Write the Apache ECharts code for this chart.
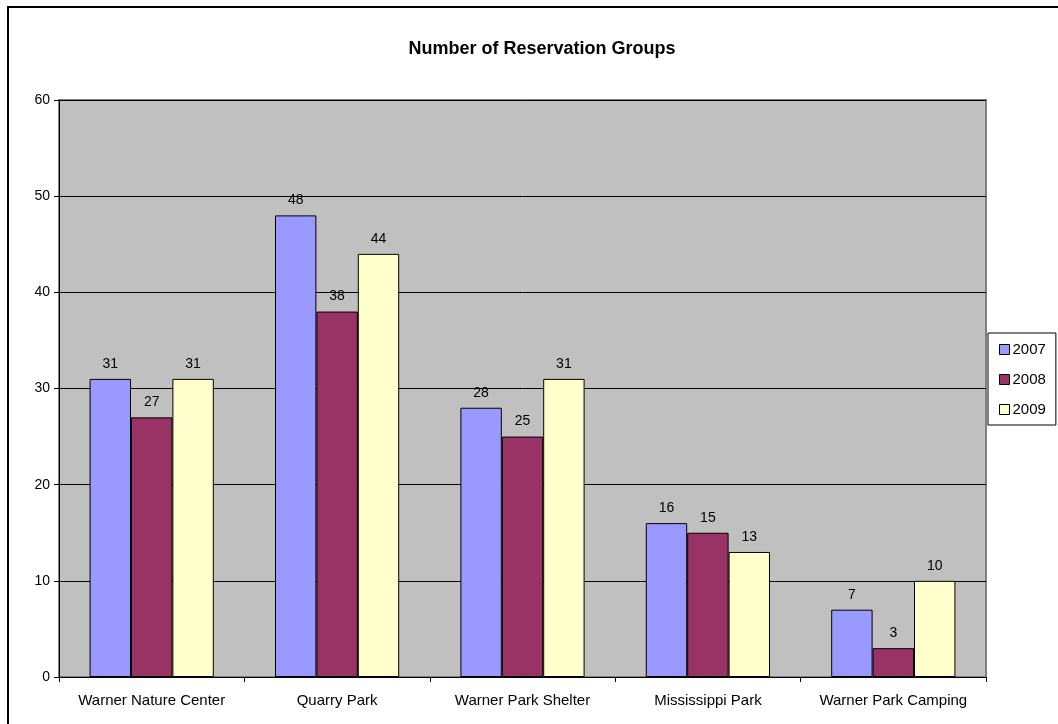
<!DOCTYPE html>
<html>
<head>
<meta charset="utf-8">
<script src="https://cdn.jsdelivr.net/npm/echarts@6/dist/echarts.min.js"></script>
<style>
html,body{margin:0;padding:0;background:#fff;}
#chart{width:1058px;height:724px;}
</style>
</head>
<body>
<div id="chart"></div>
<script>
const categories = ['Warner Nature Center', 'Quarry Park', 'Warner Park Shelter', 'Mississippi Park', 'Warner Park Camping'];
const seriesNames = ['2007', '2008', '2009'];
const values2007 = [31, 48, 28, 16, 7];
const values2008 = [27, 38, 25, 15, 3];
const values2009 = [31, 44, 31, 13, 10];
const yTicks = [0, 10, 20, 30, 40, 50, 60];

const colors = ['#9999FF', '#993366', '#FFFFCC'];
const font = 'Liberation Sans, Arial, sans-serif';
const allValues = [values2007, values2008, values2009];

const chart = echarts.init(document.getElementById('chart'));
chart.setOption({
  animation: false,
  textStyle: { fontFamily: font },
  title: {
    text: 'Number of Reservation Groups',
    left: 537,
    textAlign: 'center',
    top: 35,
    textStyle: { fontFamily: font, fontSize: 18, fontWeight: 'bold', color: '#000' }
  },
  graphic: [{
    type: 'rect',
    shape: { x: 8, y: 7, width: 1200, height: 900 },
    style: { fill: 'none', stroke: '#000', lineWidth: 2 },
    z: 100
  }],
  legend: {
    orient: 'vertical',
    left: 988,
    top: 333,
    data: seriesNames,
    icon: 'rect',
    itemWidth: 10,
    itemHeight: 10,
    itemGap: 15,
    padding: [9, 10, 8, 11],
    borderColor: '#000',
    borderWidth: 1,
    backgroundColor: '#fff',
    itemStyle: { borderColor: '#000', borderWidth: 1 },
    textStyle: { fontFamily: font, fontSize: 15, color: '#000', padding: [0, 0, 0, -2] }
  },
  grid: {
    left: 59, top: 100, right: 72, bottom: 47,
    show: true,
    backgroundColor: '#C0C0C0',
    borderColor: '#808080',
    borderWidth: 2
  },
  xAxis: {
    type: 'category',
    data: categories,
    axisLine: { lineStyle: { color: '#000', width: 1 } },
    axisTick: { show: true, length: 5, lineStyle: { color: '#000' } },
    axisLabel: { interval: 0, fontFamily: font, fontSize: 15, color: '#000', margin: 16 }
  },
  yAxis: {
    type: 'value',
    min: yTicks[0],
    max: yTicks[yTicks.length - 1],
    interval: 10,
    axisLine: { show: true, lineStyle: { color: '#000', width: 1 } },
    axisTick: { show: true, length: 5, lineStyle: { color: '#000' } },
    axisLabel: { fontFamily: font, fontSize: 14, color: '#000', margin: 9 },
    splitLine: { show: true, lineStyle: { color: '#000', width: 1 } }
  },
  series: seriesNames.map((name, i) => ({
    name: name,
    type: 'bar',
    data: allValues[i],
    barGap: '0%',
    barCategoryGap: '33%',
    itemStyle: { color: colors[i], borderColor: '#000', borderWidth: 1 },
    label: { show: true, position: 'top', distance: 8, fontFamily: font, fontSize: 14, color: '#000' }
  }))
});
</script>
</body>
</html>
